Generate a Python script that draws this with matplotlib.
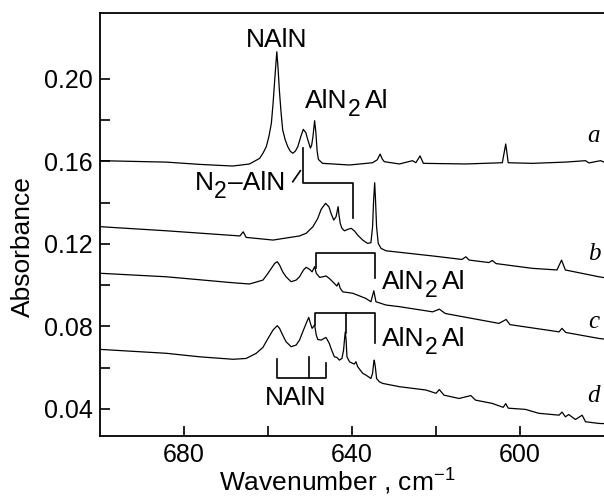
import matplotlib
matplotlib.use('Agg')
import matplotlib.pyplot as plt
import numpy as np

plt.rcParams['font.family'] = ['Liberation Sans', 'DejaVu Sans']
plt.rcParams['mathtext.fontset'] = 'custom'
plt.rcParams['mathtext.rm'] = 'Liberation Sans'
plt.rcParams['mathtext.it'] = 'Liberation Sans:italic'
plt.rcParams['font.size'] = 18

# Spectra (wavenumber in cm^-1, absorbance)
a_wn = [700.0, 684.2, 676.3, 668.4, 664.4, 662.0, 661.2, 660.4, 659.8, 659.2,
        658.8, 658.4, 658.1, 657.9, 657.6, 657.3, 656.9, 656.5, 655.9, 655.3,
        654.7, 654.1, 653.5, 652.9, 652.2, 651.6, 651.0, 650.5, 649.9, 649.6,
        649.3, 648.9, 648.6, 648.3, 648.0, 647.0, 640.6, 635.1, 634.0, 633.3,
        632.8, 632.3, 628.7, 625.6, 624.8, 623.8, 623.0, 612.9, 604.2, 603.4,
        602.8, 597.1, 589.2, 584.4, 583.6, 580.8, 580.0]
a_abs = [0.1604, 0.1597, 0.1586, 0.1578, 0.1588, 0.1615, 0.1640, 0.1672, 0.1720, 0.1785,
         0.1880, 0.1995, 0.2080, 0.2132, 0.2050, 0.1947, 0.1840, 0.1753, 0.1705, 0.1672,
         0.1650, 0.1640, 0.1650, 0.1672, 0.1720, 0.1756, 0.1740, 0.1704, 0.1665, 0.1680,
         0.1720, 0.1798, 0.1740, 0.1650, 0.1610, 0.1591, 0.1583, 0.1594, 0.1608, 0.1636,
         0.1612, 0.1599, 0.1588, 0.1604, 0.1594, 0.1627, 0.1591, 0.1588, 0.1594, 0.1685,
         0.1594, 0.1591, 0.1597, 0.1604, 0.1593, 0.1604, 0.1597]

b_wn = [700.0, 684.2, 666.7, 665.9, 665.2, 658.8, 652.5, 650.9, 649.3, 648.15,
        647.35, 646.3, 645.5, 645.0, 644.35, 643.8, 643.3, 643.1, 642.8, 642.4,
        641.8, 641.0, 640.2, 639.4, 638.65, 637.45, 636.3, 635.5, 635.1, 634.85,
        634.6, 634.4, 634.15, 633.75, 633.1, 631.9, 620.8, 613.8, 612.9, 612.1,
        607.4, 606.6, 605.7, 597.1, 591.2, 590.1, 589.2, 581.2, 580.0]
b_abs = [0.1284, 0.1264, 0.1239, 0.1259, 0.1232, 0.1219, 0.1239, 0.1252, 0.1284, 0.1324,
         0.1368, 0.1397, 0.1381, 0.1349, 0.1316, 0.1332, 0.1381, 0.1340, 0.1300, 0.1276,
         0.1264, 0.1271, 0.1276, 0.1263, 0.1243, 0.1219, 0.1203, 0.1206, 0.1284, 0.1413,
         0.1497, 0.1413, 0.1284, 0.1203, 0.1179, 0.1167, 0.1142, 0.1125, 0.1138, 0.1122,
         0.1110, 0.1120, 0.1105, 0.1082, 0.1074, 0.1122, 0.1074, 0.1041, 0.1037]

c_wn = [700.0, 684.2, 668.3, 664.4, 661.2, 660.0, 659.2, 658.4, 657.8, 657.25,
        656.5, 655.7, 654.5, 653.3, 652.5, 651.55, 650.9, 650.1, 649.5, 648.9,
        648.5, 647.7, 646.95, 646.2, 645.4, 644.6, 643.6, 643.2, 642.8, 642.2,
        639.8, 636.7, 635.5, 634.8, 634.3, 631.9, 628.7, 620.8, 619.2, 617.8,
        605.0, 603.3, 602.4, 590.7, 590.0, 589.1, 581.2, 580.0]
c_abs = [0.1058, 0.1041, 0.1012, 0.1006, 0.1025, 0.1058, 0.1082, 0.1106, 0.1114, 0.1098,
         0.1065, 0.1041, 0.1017, 0.1025, 0.1041, 0.1074, 0.1087, 0.1077, 0.1065, 0.1090,
         0.1058, 0.1038, 0.1041, 0.1045, 0.1033, 0.1017, 0.0996, 0.1012, 0.0985, 0.0968,
         0.0961, 0.0936, 0.0920, 0.0973, 0.0920, 0.0904, 0.0896, 0.0871, 0.0884, 0.0863,
         0.0815, 0.0834, 0.0809, 0.0774, 0.0791, 0.0771, 0.0742, 0.0739]

d_wn = [700.0, 684.2, 676.3, 668.3, 665.2, 662.8, 661.2, 660.0, 658.8, 657.8,
        657.25, 656.5, 655.7, 654.5, 653.3, 652.5, 651.55, 650.75, 650.3, 649.9,
        649.5, 648.9, 648.5, 648.15, 647.35, 646.2, 645.4, 645.0, 644.2, 643.6,
        643.0, 642.4, 642.0, 641.8, 641.6, 641.4, 641.2, 640.6, 639.85, 639.45,
        639.05, 638.65, 637.45, 636.65, 635.5, 635.1, 634.85, 634.7, 634.45, 634.15,
        633.5, 632.7, 628.7, 622.4, 620.0, 619.2, 618.1, 614.5, 611.7, 610.6,
        606.6, 604.0, 603.4, 602.8, 598.7, 595.5, 590.7, 590.0, 589.2, 588.4,
        586.8, 585.2, 584.4, 581.2, 580.0]
d_abs = [0.0689, 0.0670, 0.0653, 0.0641, 0.0645, 0.0670, 0.0699, 0.0742, 0.0783, 0.0804,
         0.0791, 0.0758, 0.0726, 0.0702, 0.0710, 0.0734, 0.0783, 0.0823, 0.0844, 0.0815,
         0.0791, 0.0807, 0.0758, 0.0737, 0.0734, 0.0747, 0.0718, 0.0694, 0.0653, 0.0650,
         0.0637, 0.0645, 0.0686, 0.0734, 0.0774, 0.0734, 0.0653, 0.0629, 0.0621, 0.0618,
         0.0629, 0.0605, 0.0573, 0.0564, 0.0548, 0.0573, 0.0621, 0.0637, 0.0605, 0.0548,
         0.0532, 0.0524, 0.0508, 0.0492, 0.0476, 0.0494, 0.0467, 0.0451, 0.0465, 0.0443,
         0.0427, 0.0408, 0.0426, 0.0404, 0.0398, 0.0379, 0.0370, 0.0385, 0.0362, 0.0373,
         0.0349, 0.0370, 0.0338, 0.0330, 0.0329]

curve_names = ['a', 'b', 'c', 'd']
name_y = [0.1694, 0.1122, 0.0792, 0.0433]

fig = plt.figure(figsize=(6.04, 4.98), dpi=100)
ax = fig.add_axes([100 / 604, 1 - 436 / 498, 504 / 604, 423 / 498])

for wn, ab in [(a_wn, a_abs), (b_wn, b_abs), (c_wn, c_abs), (d_wn, d_abs)]:
    ax.plot(wn, ab, color='black', lw=0.9)

ax.set_xlim(700, 580)
ax.set_ylim(0.0269, 0.232)

ax.set_xticks([680, 640, 600])
ax.set_xticks([660, 620], minor=True)
ax.set_yticks([0.04, 0.08, 0.12, 0.16, 0.20])
ax.set_yticklabels(['0.04', '0.08', '0.12', '0.16', '0.20'])
ax.set_yticks([0.06, 0.10, 0.14, 0.18], minor=True)
ax.tick_params(which='both', direction='in', length=7, width=1.2,
               top=False, right=False, labelsize=18, pad=5)
ax.spines['right'].set_visible(False)
for s in ['left', 'bottom', 'top']:
    ax.spines[s].set_linewidth(1.3)

# bracket markers
kw = dict(color='black', lw=1.2)
ax.plot([654.1, 652.3], [0.1502, 0.1555], **kw)
ax.plot([651.55, 651.55, 639.8, 639.8], [0.1665, 0.1496, 0.1496, 0.1324], **kw)
ax.plot([648.6, 648.6, 634.6, 634.6], [0.1082, 0.1156, 0.1156, 0.1033], **kw)
ax.plot([648.9, 648.9, 634.6, 634.6], [0.0807, 0.0867, 0.0867, 0.0718], **kw)
ax.plot([641.4, 641.4], [0.0867, 0.0768], **kw)
ax.plot([657.9, 657.9, 646.3, 646.3], [0.0641, 0.0548, 0.0548, 0.0623], **kw)
ax.plot([650.3, 650.3], [0.0652, 0.0548], **kw)

fs = 19
sub = 16.5
drop = 5.5


def formula(x, y, head, tail, gap):
    # head, subscript 2, tail — chained so the pieces sit next to each other
    t1 = ax.text(x, y, head, ha='left', va='baseline', fontsize=fs)
    t2 = ax.annotate('2', xy=(1, 0), xycoords=t1, xytext=(0.3, -drop),
                     textcoords='offset points', ha='left', va='bottom',
                     fontsize=sub)
    ax.annotate(tail, xy=(1, 0), xycoords=t2, xytext=(gap, drop),
                textcoords='offset points', ha='left', va='bottom',
                fontsize=fs)


ax.text(658.0, 0.2155, 'NAlN', ha='center', va='baseline', fontsize=fs)
formula(651.3, 0.1859, 'AlN', 'Al', 3.5)
formula(632.9, 0.0982, 'AlN', 'Al', 3.5)
formula(632.9, 0.0705, 'AlN', 'Al', 3.5)
formula(677.4, 0.1462, 'N', '–AlN', 0.5)
ax.text(653.45, 0.0419, 'NAlN', ha='center', va='baseline', fontsize=fs)

for name, yy in zip(curve_names, name_y):
    ax.text(582.4, yy, name, ha='center', va='baseline',
            family='Liberation Serif', style='italic', fontsize=18)

fig.text(22.5 / 604, 1 - 247 / 498, 'Absorbance', rotation=90,
         ha='center', va='center', fontsize=19)
fig.text(337.5 / 604, 1 - 482 / 498, r'Wavenumber , cm$^{-1}$',
         ha='center', va='center', fontsize=19)

fig.savefig('out.png', dpi=100, facecolor='white')
